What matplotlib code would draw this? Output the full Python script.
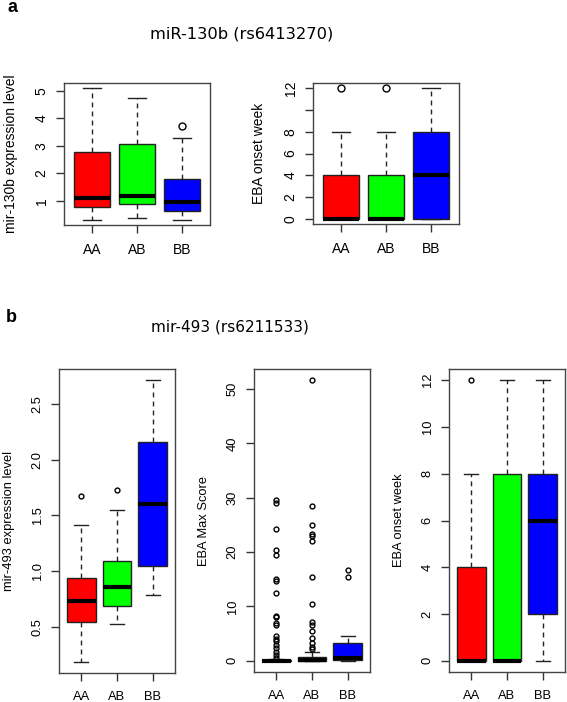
import matplotlib
matplotlib.use('Agg')
import matplotlib.pyplot as plt

# genotype groups and box colours
groups = ['AA', 'AB', 'BB']
colors = ['#ff0000', '#00ff00', '#0000ff']

# a: miR-130b expression level  (whislo, q1, med, q3, whishi)
a_expr = [(0.31, 0.76, 1.09, 2.79, 5.09), (0.39, 0.88, 1.17, 3.05, 4.72), (0.31, 0.63, 0.96, 1.80, 3.28)]
a_expr_out = [[], [], [3.72]]

# a: EBA onset week
a_week = [(0, 0, 0, 4, 8), (0, 0, 0, 4, 8), (0, 0, 4, 8, 12)]
a_week_out = [[12], [12], []]

# b: mir-493 expression level
b_expr = [(0.19, 0.55, 0.73, 0.94, 1.41), (0.53, 0.69, 0.86, 1.09, 1.55), (0.79, 1.05, 1.60, 2.16, 2.71)]
b_expr_out = [[1.67], [1.73], []]

# b: EBA max score
b_score = [(0, 0, 0, 0.2, 0.4), (0, 0, 0.15, 0.75, 1.7), (0, 0.2, 0.5, 3.3, 4.5)]
b_score_out = [
    [29.6, 29.0, 24.3, 20.4, 19.5, 15.1, 14.6, 12.4, 8.3, 8.0, 6.9, 6.5, 4.5, 4.0, 3.6, 2.9, 2.3, 1.7, 1.1, 0.6],
    [51.6, 28.5, 25.0, 23.3, 22.9, 22.1, 15.5, 10.5, 7.1, 6.5, 5.4, 4.2, 3.2, 2.6, 2.1],
    [16.7, 15.5],
]

# b: EBA onset week
b_week = [(0, 0, 0, 4, 8), (0, 0, 0, 8, 12), (0, 2, 6, 8, 12)]
b_week_out = [[12], [], []]

W, H = 567, 702
fig = plt.figure(figsize=(W / 100, H / 100), dpi=100)
plt.rcParams['font.family'] = ['Liberation Sans', 'DejaVu Sans']


def add_axes(x0, y0, x1, y1):
    return fig.add_axes([x0 / W, 1 - y1 / H, (x1 - x0) / W, (y1 - y0) / H])


def boxpanel(ax, stats, outliers, ylabel, yticks, ylabels, tpad, lpad, fs, ms):
    data = []
    for (lo, q1, med, q3, hi), fl, g in zip(stats, outliers, groups):
        data.append(dict(whislo=lo, q1=q1, med=med, q3=q3, whishi=hi, fliers=fl, label=g))
    res = ax.bxp(data, positions=[1, 2, 3], widths=0.8, patch_artist=True,
                 capwidths=0.4,
                 boxprops=dict(edgecolor='#222222', linewidth=1),
                 medianprops=dict(color='black', linewidth=3, solid_capstyle='butt'),
                 whiskerprops=dict(color='#222222', linewidth=1, linestyle=(0, (3.5, 3))),
                 capprops=dict(color='#222222', linewidth=1),
                 flierprops=dict(marker='o', markerfacecolor='none', markeredgecolor='black',
                                 markersize=ms, markeredgewidth=1))
    for patch, c in zip(res['boxes'], colors):
        patch.set_facecolor(c)
    ax.set_xlim(0.38, 3.62)
    lo = min(min(s[0] for s in stats), min([v for o in outliers for v in o] + [1e9]))
    hi = max(max(s[4] for s in stats), max([v for o in outliers for v in o] + [-1e9]))
    pad = (hi - lo) * 0.04
    ax.set_ylim(lo - pad, hi + pad)
    ax.set_yticks(yticks)
    ax.set_yticklabels(ylabels, rotation=90, va='center', fontsize=fs)
    ax.set_xticks([1, 2, 3])
    ax.set_xticklabels(groups, fontsize=fs)
    ax.tick_params(axis='both', length=6, width=1, color='#333333', direction='out')
    ax.tick_params(axis='y', pad=tpad)
    ax.tick_params(axis='x', pad=7)
    ax.set_ylabel(ylabel, fontsize=fs, labelpad=lpad)
    for s in ax.spines.values():
        s.set_color('#444444')
        s.set_linewidth(1)


# panel a
ax1 = add_axes(64, 83, 210, 225)
boxpanel(ax1, a_expr, a_expr_out, 'mir-130b expression level',
         [1, 2, 3, 4, 5], ['1', '2', '3', '4', '5'], 5, 12, 10, 5)
ax2 = add_axes(313, 83, 459, 224)
boxpanel(ax2, a_week, a_week_out, 'EBA onset week',
         [0, 2, 4, 6, 8, 10, 12], ['0', '2', '4', '6', '8', '', '12'], 5, 13, 10, 5)

# panel b
ax3 = add_axes(59, 369, 175, 673)
boxpanel(ax3, b_expr, b_expr_out, 'mir-493 expression level',
         [0.5, 1.0, 1.5, 2.0, 2.5], ['0.5', '1.0', '1.5', '2.0', '2.5'], 5, 12, 9.3, 3.5)
ax4 = add_axes(254, 369, 370, 672)
boxpanel(ax4, b_score, b_score_out, 'EBA Max Score',
         [0, 10, 20, 30, 40, 50], ['0', '10', '20', '30', '40', '50'], 5, 12, 9.3, 3.5)
ax5 = add_axes(449, 369, 565, 672)
boxpanel(ax5, b_week, b_week_out, 'EBA onset week',
         [0, 2, 4, 6, 8, 10, 12], ['0', '2', '4', '6', '8', '10', '12'], 5, 12, 9.3, 3.5)

# titles and panel letters
fig.text(12 / W, 1 - 7 / H, 'a', fontsize=13, fontweight='bold', ha='center', va='center')
fig.text(11 / W, 1 - 317 / H, 'b', fontsize=13, fontweight='bold', ha='center', va='center')
fig.text(242 / W, 1 - 34 / H, 'miR-130b (rs6413270)', fontsize=11.7, family='DejaVu Sans',
         ha='center', va='center')
fig.text(230 / W, 1 - 327 / H, 'mir-493 (rs6211533)', fontsize=11, family='DejaVu Sans',
         ha='center', va='center')

fig.savefig('out.png', dpi=100)
